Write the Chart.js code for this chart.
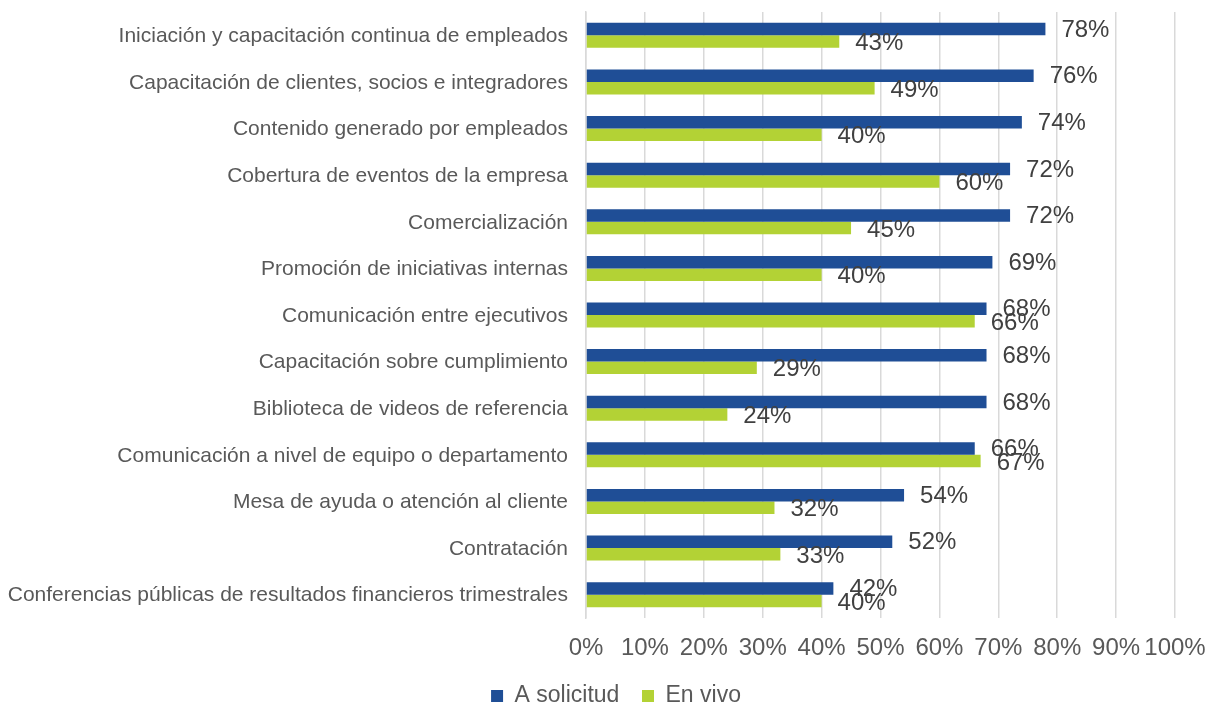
<!DOCTYPE html>
<html>
<head>
<meta charset="utf-8">
<script src="https://cdn.jsdelivr.net/npm/chart.js@4"></script>
<style>
html,body{margin:0;padding:0;background:#fff;overflow:hidden;}
#wrap{width:1206px;height:704px;position:relative;}
</style>
</head>
<body>
<div id="wrap"><canvas id="c" width="1206" height="704"></canvas></div>
<script>
const categories = [
  "Iniciación y capacitación continua de empleados",
  "Capacitación de clientes, socios e integradores",
  "Contenido generado por empleados",
  "Cobertura de eventos de la empresa",
  "Comercialización",
  "Promoción de iniciativas internas",
  "Comunicación entre ejecutivos",
  "Capacitación sobre cumplimiento",
  "Biblioteca de videos de referencia",
  "Comunicación a nivel de equipo o departamento",
  "Mesa de ayuda o atención al cliente",
  "Contratación",
  "Conferencias públicas de resultados financieros trimestrales"
];
const aSolicitud = [78, 76, 74, 72, 72, 69, 68, 68, 68, 66, 54, 52, 42];
const enVivo = [43, 49, 40, 60, 45, 40, 66, 29, 24, 67, 32, 33, 40];
const xTicks = [0, 10, 20, 30, 40, 50, 60, 70, 80, 90, 100];
const seriesNames = ["A solicitud", "En vivo"];

const FONT = "'Liberation Sans', Arial, sans-serif";

const labelPlugin = {
  id: 'barLabels',
  afterDatasetsDraw(chart) {
    const ctx = chart.ctx;
    ctx.save();
    ctx.font = "24px " + FONT;
    ctx.fillStyle = "#404040";
    ctx.textAlign = "left";
    ctx.textBaseline = "middle";
    chart.data.datasets.forEach((ds, di) => {
      const meta = chart.getDatasetMeta(di);
      const dy = di === 0 ? 1 : 2;
      meta.data.forEach((el, i) => {
        ctx.fillText(ds.data[i] + "%", el.x + 16, el.y + dy);
      });
    });
    ctx.restore();
  }
};

const legendShift = {
  id: 'legendShift',
  afterLayout(chart) {
    if (chart.legend) { chart.legend.left += 14; chart.legend.right += 14; }
  }
};

new Chart(document.getElementById('c'), {
  type: 'bar',
  data: {
    labels: categories,
    datasets: [
      { label: seriesNames[0], data: aSolicitud, backgroundColor: '#1f4e96', borderWidth: 0 },
      { label: seriesNames[1], data: enVivo, backgroundColor: '#b3d235', borderWidth: 0 }
    ]
  },
  plugins: [labelPlugin, legendShift],
  options: {
    indexAxis: 'y',
    responsive: false,
    animation: false,
    layout: { padding: { top: 12, right: 2, bottom: -13.5, left: 0 } },
    datasets: { bar: { categoryPercentage: 0.536, barPercentage: 1.0 } },
    scales: {
      x: {
        min: 0, max: 100,
        afterBuildTicks(scale) { scale.ticks = xTicks.map(v => ({ value: v })); },
        afterFit(scale) { scale.paddingRight = 31; },
        ticks: { callback: v => v + '%', font: { family: FONT, size: 24 }, color: '#595959', padding: 15.6, maxRotation: 0, autoSkip: false },
        grid: { color: '#d9d9d9', lineWidth: 1.5, drawTicks: false },
        border: { display: false }
      },
      y: {
        afterFit(scale) { scale.width = 586; scale.paddingTop = 0; scale.paddingBottom = 0; },
        ticks: { font: { family: FONT, size: 21 }, color: '#595959', padding: 18, autoSkip: false, labelOffset: 1 },
        grid: { display: false, drawTicks: false },
        border: { display: true, color: '#d9d9d9', width: 1.5 }
      }
    },
    plugins: {
      legend: {
        position: 'bottom',
        labels: {
          font: { family: FONT, size: 23 }, color: '#595959', boxWidth: 12, boxHeight: 12, padding: 6.5,
          generateLabels(chart) {
            const items = Chart.defaults.plugins.legend.labels.generateLabels(chart);
            items.forEach((it, i) => { if (i < items.length - 1) it.text = it.text + '\u2002\u2009'; });
            return items;
          }
        }
      },
      tooltip: { enabled: false }
    }
  }
});
</script>
</body>
</html>
